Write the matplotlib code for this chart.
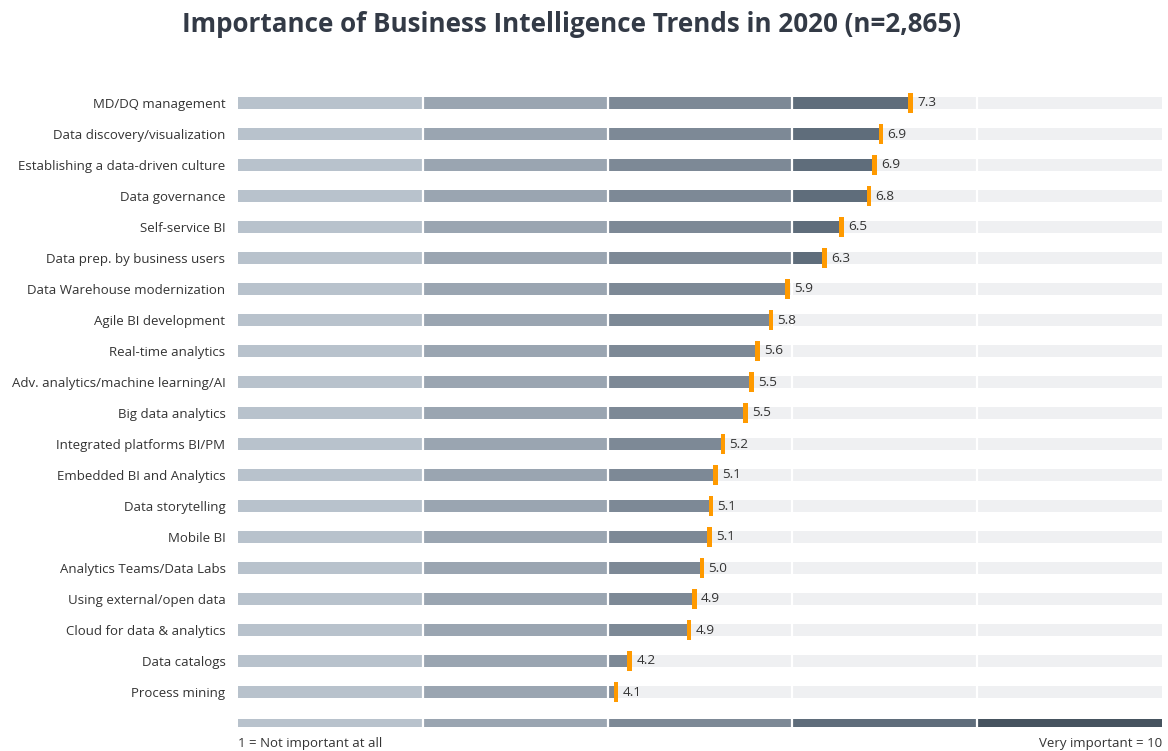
import matplotlib.pyplot as plt

plt.rcParams['font.family'] = ['Open Sans', 'DejaVu Sans']

trends = ["MD/DQ management", "Data discovery/visualization",
          "Establishing a data-driven culture", "Data governance",
          "Self-service BI", "Data prep. by business users",
          "Data Warehouse modernization", "Agile BI development",
          "Real-time analytics", "Adv. analytics/machine learning/AI",
          "Big data analytics", "Integrated platforms BI/PM",
          "Embedded BI and Analytics", "Data storytelling", "Mobile BI",
          "Analytics Teams/Data Labs", "Using external/open data",
          "Cloud for data & analytics", "Data catalogs", "Process mining"]
scores = [7.28, 6.96, 6.89, 6.83, 6.53, 6.35, 5.95, 5.77, 5.62, 5.56,
          5.49, 5.25, 5.17, 5.12, 5.10, 5.02, 4.94, 4.88, 4.24, 4.09]
score_labels = ["7.3", "6.9", "6.9", "6.8", "6.5", "6.3", "5.9", "5.8", "5.6", "5.5",
                "5.5", "5.2", "5.1", "5.1", "5.1", "5.0", "4.9", "4.9", "4.2", "4.1"]
seg_edges = [0, 2, 4, 6, 8, 10]
seg_colors = ["#b8c2cc", "#9aa5b1", "#7d8996", "#5f6d7b", "#46535f"]
track_color = "#eff0f2"
marker_color = "#ff9a00"
text_color = "#333333"

fig = plt.figure(figsize=(11.68, 7.51), dpi=100)
ax = fig.add_axes([238 / 1168, 1 - 738.5 / 751, 924 / 1168, 651 / 751])

bar_h = 0.36
for i, v in enumerate(scores):
    ax.barh(i, 10, left=0, height=bar_h, color=track_color, zorder=1)
    for k in range(5):
        lo, hi = seg_edges[k], seg_edges[k + 1]
        w = min(max(v - lo, 0), hi - lo)
        if w > 0:
            ax.barh(i, w, left=lo, height=bar_h, color=seg_colors[k], zorder=2)
    ax.barh(i, 0.05, left=v - 0.025, height=0.64, color=marker_color, zorder=4)
    ax.text(v + 0.07, i, score_labels[i], va='center', ha='left',
            fontsize=9.7, color=text_color, zorder=5)

# scale legend bar
leg_y = len(trends)
for k in range(5):
    ax.barh(leg_y, seg_edges[k + 1] - seg_edges[k], left=seg_edges[k],
            height=0.29, color=seg_colors[k], zorder=2)

for x in seg_edges[1:-1]:
    ax.axvline(x, color='white', lw=1.6, zorder=3)

ax.set_xlim(0, 10)
ax.set_ylim(leg_y + 0.5, -0.5)
ax.set_yticks(range(len(trends)))
ax.set_yticklabels(trends, fontsize=9.5, color=text_color)
ax.tick_params(axis='y', length=0, pad=9)
ax.set_xticks([])
for s in ax.spines.values():
    s.set_visible(False)

fig.text(238 / 1168, 1 - 743 / 751, "1 = Not important at all", ha='left',
         va='center', fontsize=9.5, color=text_color)
fig.text(1162 / 1168, 1 - 743 / 751, "Very important = 10", ha='right',
         va='center', fontsize=9.5, color=text_color)
fig.text(571.5 / 1168, 1 - 24 / 751, "Importance of Business Intelligence Trends in 2020 (n=2,865)",
         ha='center', va='center', fontsize=18.7, fontweight='bold', color="#333a46")

fig.savefig("out.png", dpi=100)
